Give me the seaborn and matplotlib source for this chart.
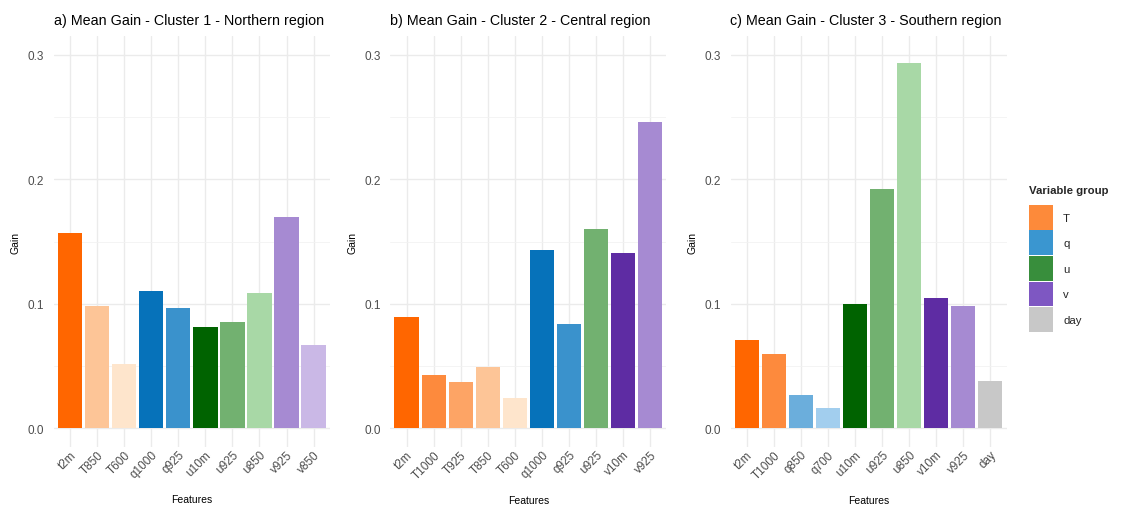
import matplotlib
matplotlib.use("Agg")
import matplotlib.pyplot as plt
from matplotlib.patches import Rectangle
from matplotlib.ticker import MultipleLocator
import seaborn as sns
import pandas as pd

# ---- data ----
titles = ["a) Mean Gain - Cluster 1 - Northern region",
          "b) Mean Gain - Cluster 2 - Central region",
          "c) Mean Gain - Cluster 3 - Southern region"]

features_a = ["t2m", "T850", "T600", "q1000", "q925", "u10m", "u925", "u850", "v925", "v850"]
gain_a = [0.157, 0.098, 0.052, 0.110, 0.097, 0.081, 0.085, 0.109, 0.170, 0.067]

features_b = ["t2m", "T1000", "T925", "T850", "T600", "q1000", "q925", "u925", "v10m", "v925"]
gain_b = [0.089, 0.043, 0.037, 0.049, 0.024, 0.143, 0.084, 0.160, 0.141, 0.246]

features_c = ["t2m", "T1000", "q850", "q700", "u10m", "u925", "u850", "v10m", "v925", "day"]
gain_c = [0.071, 0.060, 0.027, 0.016, 0.100, 0.192, 0.293, 0.105, 0.098, 0.038]

legend_groups = ["T", "q", "u", "v", "day"]
legend_colors = ["#FD8A3A", "#3A96D0", "#388E3C", "#7E57C2", "#C8C8C8"]

palette = {
    "t2m": "#FF6600", "T1000": "#FD8A3D", "T925": "#FDA465", "T850": "#FDC597",
    "T600": "#FEE5CC",
    "q1000": "#0672BA", "q925": "#3A92CC", "q850": "#6BAEDC", "q700": "#A2CEEE",
    "u10m": "#006300", "u925": "#72B170", "u850": "#A8D8A6",
    "v10m": "#5E2CA3", "v925": "#A68AD2", "v850": "#CAB8E6",
    "day": "#C8C8C8",
}

sns.set_theme(style="whitegrid")
plt.rcParams["font.family"] = ["Liberation Sans", "DejaVu Sans"]

W, H = 1121, 506
fig = plt.figure(figsize=(W / 100, H / 100), dpi=100)

panels = [(features_a, gain_a), (features_b, gain_b), (features_c, gain_c)]
lefts_px = [53.8, 390.4, 730.5]
width_px = 276.0
top_px, bottom_px = 37, 448

for i, ((feats, gains), title) in enumerate(zip(panels, titles)):
    ax = fig.add_axes([lefts_px[i] / W, 1 - bottom_px / H, width_px / W,
                       (bottom_px - top_px) / H])
    df = pd.DataFrame({"Features": feats, "Gain": gains})
    sns.barplot(data=df, x="Features", y="Gain", hue="Features",
                palette=palette, dodge=False, legend=False, width=0.9,
                saturation=1, ax=ax, linewidth=0)
    ax.set_xlim(-0.6, len(feats) - 0.4)
    ax.set_ylim(-0.015, 0.315)
    ax.yaxis.set_major_locator(MultipleLocator(0.1))
    ax.yaxis.set_minor_locator(MultipleLocator(0.05))
    ax.set_yticks([0.0, 0.1, 0.2, 0.3])
    ax.set_yticklabels(["0.0", "0.1", "0.2", "0.3"])
    ax.grid(True, which="major", color="#EBEBEB", linewidth=1.0)
    ax.grid(True, which="minor", axis="y", color="#F2F2F2", linewidth=0.6)
    ax.set_axisbelow(True)
    for s in ax.spines.values():
        s.set_visible(False)
    ax.tick_params(axis="both", length=0, labelsize=8.5, labelcolor="#4D4D4D")
    ax.tick_params(axis="y", pad=7)
    ax.tick_params(axis="x", pad=1)
    for lab in ax.get_xticklabels():
        lab.set_rotation(45)
        lab.set_ha("right")
        lab.set_va("top")
        lab.set_rotation_mode("anchor")
    ax.set_xlabel("Features", fontsize=7.5, color="black", labelpad=10)
    ax.set_ylabel("Gain", fontsize=7.5, color="black", labelpad=5)
    ax.set_title(title, loc="left", fontsize=10.3, color="black", pad=9)
    ax.set_facecolor("white")

# ---- legend ----
fig.text(1029 / W, 1 - 191 / H, "Variable group", fontsize=8.2,
         fontweight="bold", ha="left", va="center")
key_h = 25.5
for j, (g, c) in enumerate(zip(legend_groups, legend_colors)):
    y0 = 206 + j * key_h
    fig.add_artist(Rectangle((1029 / W, 1 - (y0 + key_h - 1) / H), 24 / W,
                             (key_h - 1) / H, facecolor=c, edgecolor="none",
                             transform=fig.transFigure))
    fig.text(1063 / W, 1 - (y0 + key_h / 2) / H, g, fontsize=8.2,
             ha="left", va="center")

fig.savefig("out.png", dpi=100, facecolor="white")
